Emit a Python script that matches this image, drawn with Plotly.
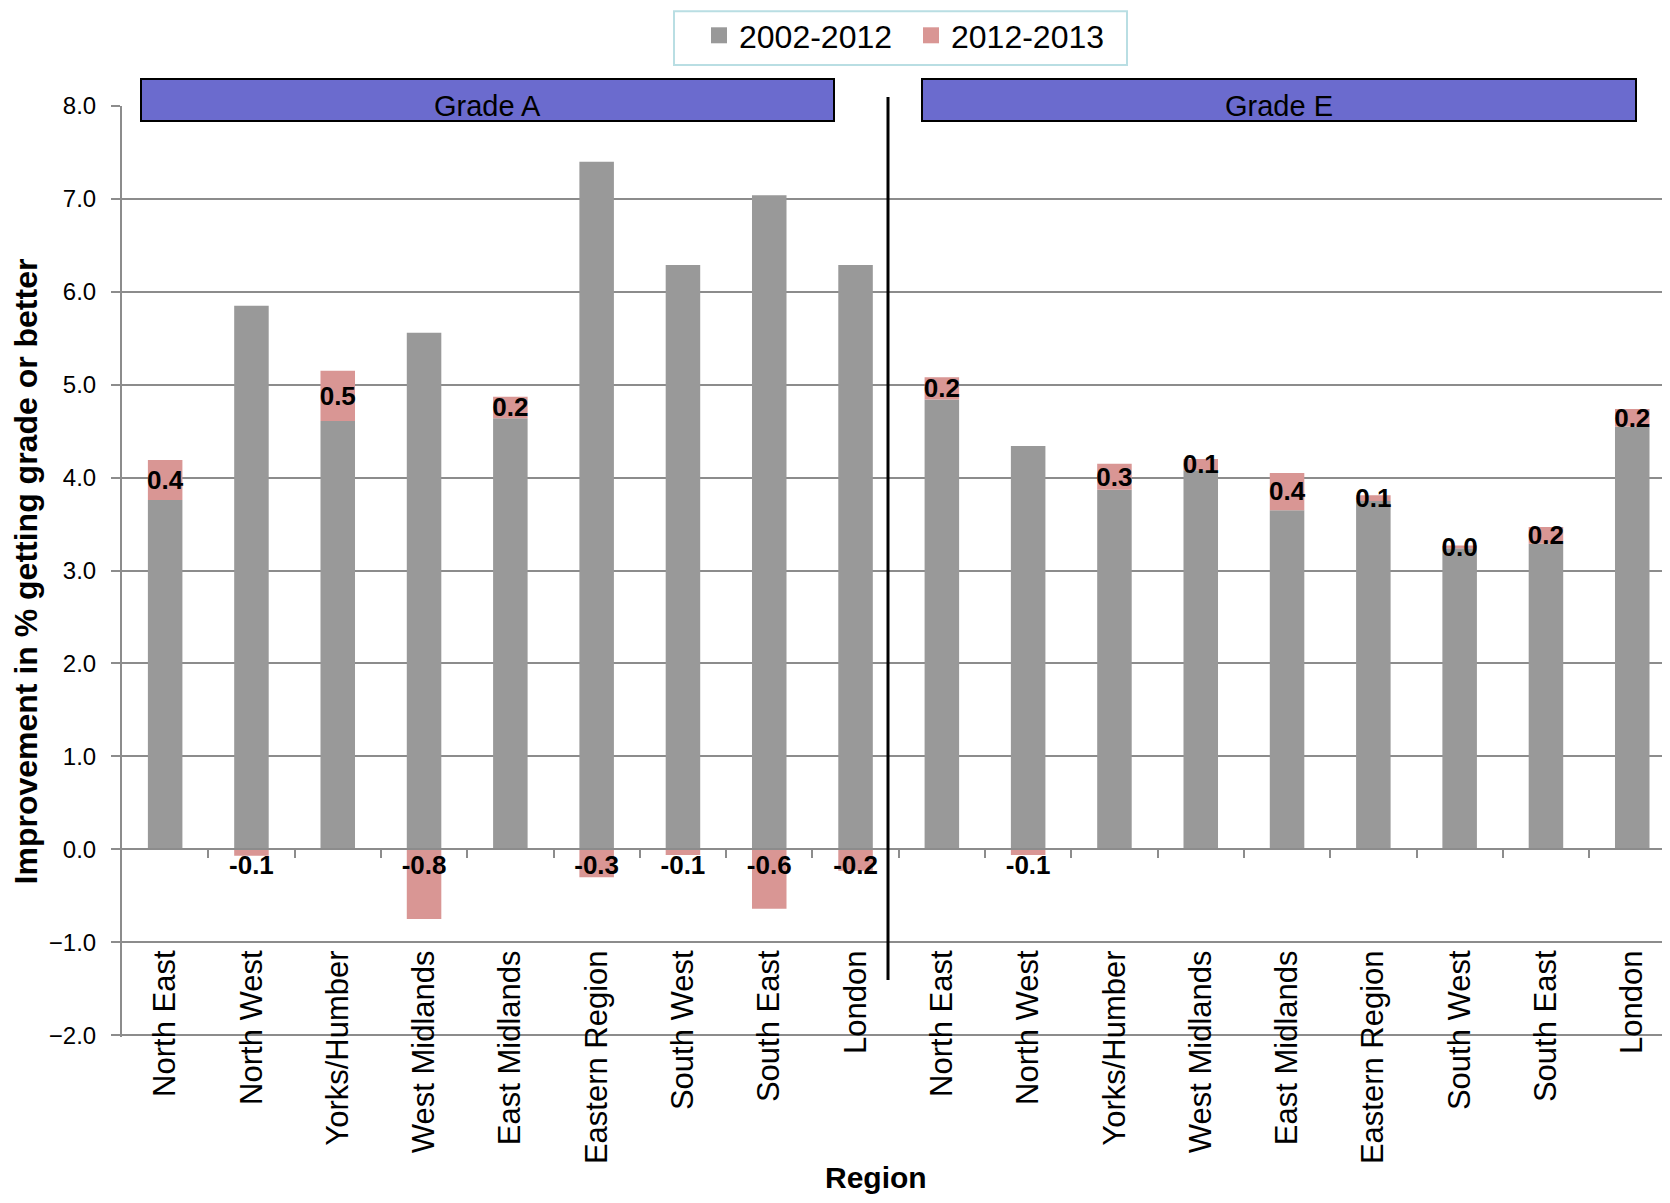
import plotly.graph_objects as go

# ---------------- data ----------------
regions = ["North East", "North West", "Yorks/Humber", "West Midlands", "East Midlands",
           "Eastern Region", "South West", "South East", "London"]
grades = ["Grade A", "Grade E"]
series_names = ["2002-2012", "2012-2013"]

grade_a_2002_2012 = [3.76, 5.85, 4.61, 5.56, 4.64, 7.40, 6.29, 7.04, 6.29]
grade_a_2012_2013 = [0.43, -0.07, 0.54, -0.75, 0.23, -0.30, -0.06, -0.64, -0.23]
grade_e_2002_2012 = [4.84, 4.34, 3.87, 4.08, 3.65, 3.75, 3.24, 3.29, 4.55]
grade_e_2012_2013 = [0.24, -0.06, 0.28, 0.12, 0.40, 0.06, 0.03, 0.18, 0.19]

y_tick_values = [-2, -1, 0, 1, 2, 3, 4, 5, 6, 7, 8]

# ---------------- styling ----------------
GREY = "#999999"
PINK = "#D99694"
GRID = "#8C8C8C"
BANNER = "#6B6BCE"
FONT = "Liberation Sans, Arial, sans-serif"

OFF = 8                      # page body margin of the browser
W, H = 1670 - 2 * OFF, 1203 - 2 * OFF
L, T = 122 - OFF, 104 - OFF
Y_PAD = 0.02                 # small range extension so the -2.0 gridline is drawn
PX_PER_UNIT = 93.1
PLOT_BOTTOM = 1035 - OFF + round(Y_PAD * PX_PER_UNIT)
R, B = 0, H - PLOT_BOTTOM
PW, PH = W - L - R, PLOT_BOTTOM - T
CAT_W = 86.3                 # px per category in the reference


def px_x(p):                 # reference page px -> paper x
    return (p - OFF - L) / PW


def px_y(p):                 # reference page px -> paper y
    return (PLOT_BOTTOM - (p - OFF)) / PH


base = grade_a_2002_2012 + grade_e_2002_2012
change = grade_a_2012_2013 + grade_e_2012_2013
cat_labels = regions + regions
xs = list(range(len(cat_labels)))
x_range = [-0.5, -0.5 + PW / CAT_W]
y_range = [y_tick_values[0] - Y_PAD, y_tick_values[-1]]

# data-label positions: centred in positive segments, just under zero for negative ones
label_y = [b + c / 2 - 0.025 if c >= 0 else -0.2 for b, c in zip(base, change)]
label_text = [f"{c:.1f}" for c in change]

fig = go.Figure()
fig.add_trace(go.Bar(x=xs, y=base, name=series_names[0], marker=dict(color=GREY, line=dict(width=0)),
                     showlegend=False, hoverinfo="y"))
fig.add_trace(go.Bar(x=xs, y=change, name=series_names[1], marker=dict(color=PINK, line=dict(width=0)),
                     showlegend=False, hoverinfo="y"))
fig.add_trace(go.Scatter(x=xs, y=label_y, mode="text", text=label_text, xaxis="x2",
                         textfont=dict(family=FONT, size=26, color="black", weight="bold"),
                         showlegend=False, hoverinfo="skip"))
# legend swatches
fig.add_trace(go.Scatter(x=[None], y=[None], mode="markers", name=series_names[0],
                         marker=dict(symbol="square", size=17, color=GREY)))
fig.add_trace(go.Scatter(x=[None], y=[None], mode="markers", name=series_names[1],
                         marker=dict(symbol="square", size=17, color=PINK)))

shapes = [
    # legend frame
    dict(type="rect", xref="paper", yref="paper", x0=px_x(674), x1=px_x(1127), y0=px_y(63), y1=px_y(OFF + 1),
         fillcolor="white", line=dict(color="#B9DEE3", width=2), layer="above"),
    # divider between grade groups
    dict(type="line", xref="paper", yref="paper", x0=px_x(888), x1=px_x(888), y0=px_y(980), y1=px_y(95),
         line=dict(color="black", width=3), layer="above"),
    # banners
    dict(type="rect", xref="paper", yref="paper", x0=px_x(141), x1=px_x(834), y0=px_y(119), y1=px_y(77),
         fillcolor=BANNER, line=dict(color="black", width=2), layer="above"),
    dict(type="rect", xref="paper", yref="paper", x0=px_x(922), x1=px_x(1636), y0=px_y(119), y1=px_y(77),
         fillcolor=BANNER, line=dict(color="black", width=2), layer="above"),
]
annotations = [
    dict(text=grades[0], xref="paper", yref="paper", x=px_x(487.5), y=px_y(104), xanchor="center",
         yanchor="middle", showarrow=False, font=dict(family=FONT, size=29, color="black")),
    dict(text=grades[1], xref="paper", yref="paper", x=px_x(1279), y=px_y(104), xanchor="center",
         yanchor="middle", showarrow=False, font=dict(family=FONT, size=29, color="black")),
    dict(text="Region", xref="paper", yref="paper", x=px_x(876), y=px_y(1178), xanchor="center",
         yanchor="middle", showarrow=False, font=dict(family=FONT, size=30, color="black", weight="bold")),
]

fig.update_layout(
    width=W, height=H,
    margin=dict(l=L, r=R, t=T, b=B, pad=0),
    paper_bgcolor="white", plot_bgcolor="white",
    font=dict(family=FONT, color="black"),
    barmode="relative", bargap=0.6,
    shapes=shapes, annotations=annotations,
    legend=dict(orientation="h", x=px_x(699), xanchor="left", y=px_y(33), yanchor="middle",
                borderwidth=0, bgcolor="rgba(0,0,0,0)", entrywidth=167,
                font=dict(family=FONT, size=32, color="black"), itemsizing="trace"),
    xaxis=dict(range=x_range, showgrid=False, zeroline=False, showticklabels=False,
               anchor="free", position=(0 - y_range[0]) / (y_range[1] - y_range[0]),
               showline=True, linecolor=GRID, linewidth=2,
               tickmode="array", tickvals=[i + 0.5 for i in xs[:-1]],
               ticks="outside", ticklen=8, tickwidth=2, tickcolor=GRID),
    xaxis2=dict(range=x_range, overlaying="x", matches="x", anchor="free",
                position=(-1 - y_range[0]) / (y_range[1] - y_range[0]),
                showgrid=False, zeroline=False, showline=False, ticks="",
                tickmode="array", tickvals=xs, ticktext=cat_labels, tickangle=-90,
                ticklabelstandoff=1,
                tickfont=dict(family=FONT, size=31, color="black")),
    yaxis=dict(range=y_range, tickmode="array", tickvals=y_tick_values, tickformat=".1f",
               showgrid=True, gridcolor=GRID, gridwidth=2, zeroline=False,
               showline=True, linecolor=GRID, linewidth=2,
               ticks="outside", ticklen=9, tickwidth=2, tickcolor=GRID,
               ticklabelstandoff=10,
               tickfont=dict(family=FONT, size=24, color="black"),
               title=dict(text="Improvement in % getting grade or better", standoff=3,
                          font=dict(family=FONT, size=32, color="black", weight="bold"))),
)

fig.write_html("out.html")
